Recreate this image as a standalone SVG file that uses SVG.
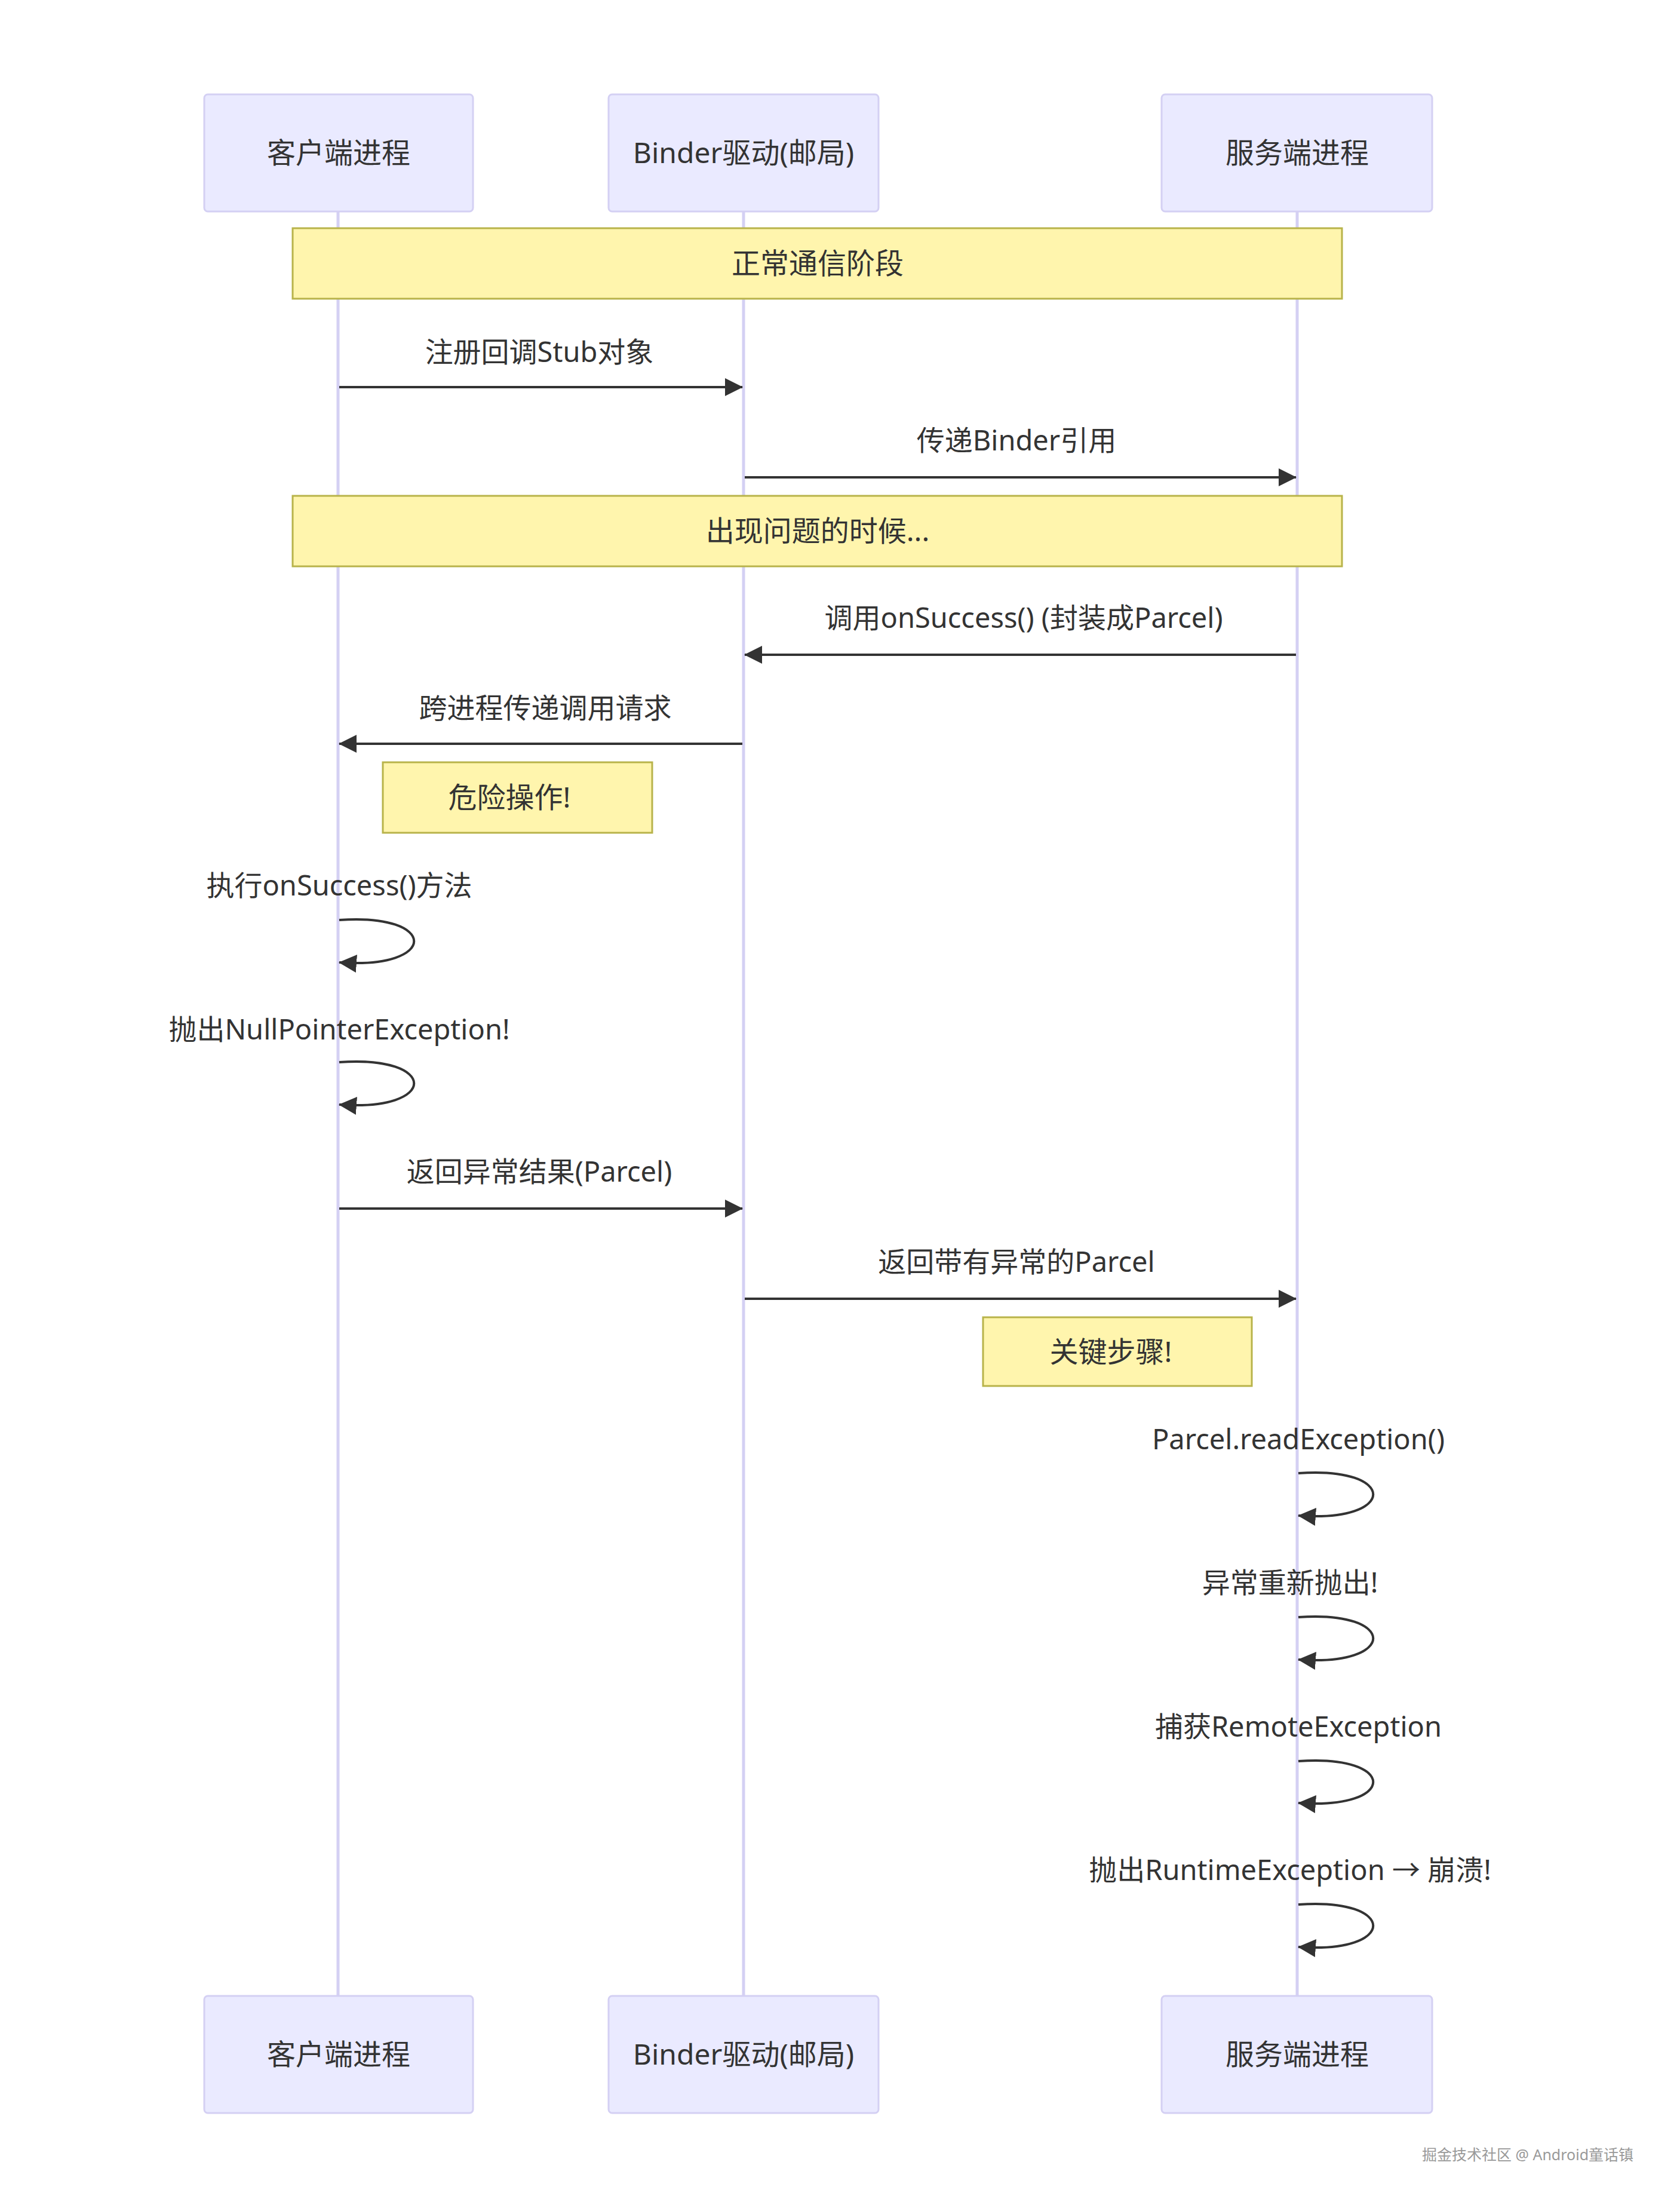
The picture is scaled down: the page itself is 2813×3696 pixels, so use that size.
<svg xmlns="http://www.w3.org/2000/svg" width="2813" height="3696" viewBox="0 0 2813 3696">
<style>
text{font-family:"Noto Sans","Noto Sans CJK SC",sans-serif;fill:#333;text-anchor:middle}
.actor{fill:#eaeaff;stroke:#d4d0f3;stroke-width:3}
.life{stroke:#d4d0f3;stroke-width:5}
.note{fill:#fff5ad;stroke:#b8b34a;stroke-width:3}
.msg{stroke:#333;stroke-width:4;fill:none;marker-end:url(#ah)}
.t{font-size:48px}
.m{font-size:47px}
</style>
<defs>
<marker id="ah" viewBox="0 0 30 30" refX="29" refY="15" markerWidth="30" markerHeight="30" markerUnits="userSpaceOnUse" orient="auto">
<path d="M0,0 L30,15 L0,30 z" fill="#333"/>
</marker>
</defs>
<rect width="2813" height="3696" fill="#fff"/>
<g id="lifelines">
<line class="life" x1="566" y1="354" x2="566" y2="3341"/>
<line class="life" x1="1245" y1="354" x2="1245" y2="3341"/>
<line class="life" x1="2172" y1="354" x2="2172" y2="3341"/>
</g>
<g id="client-top"><rect class="actor" x="342" y="158" width="450" height="196" rx="6"/><text class="t" x="567" y="273">客户端进程</text></g>
<g id="binder-top"><rect class="actor" x="1019" y="158" width="452" height="196" rx="6"/><text class="t" x="1245" y="273">Binder驱动(邮局)</text></g>
<g id="server-top"><rect class="actor" x="1945" y="158" width="453" height="196" rx="6"/><text class="t" x="2172" y="273">服务端进程</text></g>
<g id="client-bottom"><rect class="actor" x="342" y="3341" width="450" height="196" rx="6"/><text class="t" x="567" y="3456">客户端进程</text></g>
<g id="binder-bottom"><rect class="actor" x="1019" y="3341" width="452" height="196" rx="6"/><text class="t" x="1245" y="3456">Binder驱动(邮局)</text></g>
<g id="server-bottom"><rect class="actor" x="1945" y="3341" width="453" height="196" rx="6"/><text class="t" x="2172" y="3456">服务端进程</text></g>
<g id="note1"><rect class="note" x="490" y="382" width="1757" height="118"/><text class="t" x="1369" y="458">正常通信阶段</text></g>
<g id="note2"><rect class="note" x="490" y="830" width="1757" height="118"/><text class="t" x="1369" y="906">出现问题的时候...</text></g>
<g id="note3"><rect class="note" x="641" y="1276" width="451" height="118"/><text class="t" x="853" y="1352">危险操作!</text></g>
<g id="note4"><rect class="note" x="1646" y="2205" width="450" height="115"/><text class="t" x="1860" y="2280">关键步骤!</text></g>
<g id="connectors">
<line class="msg" x1="568" y1="648" x2="1243" y2="648"/>
<line class="msg" x1="1247" y1="799" x2="2170" y2="799"/>
<line class="msg" x1="2170" y1="1096" x2="1247" y2="1096"/>
<line class="msg" x1="1243" y1="1245" x2="568" y2="1245"/>
<path class="msg" d="M568,1540 C735,1528 735,1623 568,1611"/>
<path class="msg" d="M568,1778 C735,1766 735,1861 568,1849"/>
<line class="msg" x1="568" y1="2023" x2="1243" y2="2023"/>
<line class="msg" x1="1247" y1="2174" x2="2170" y2="2174"/>
<path class="msg" d="M2174,2466 C2341,2454 2341,2549 2174,2537"/>
<path class="msg" d="M2174,2707 C2341,2695 2341,2790 2174,2778"/>
<path class="msg" d="M2174,2948 C2341,2936 2341,3030 2174,3018"/>
<path class="msg" d="M2174,3188 C2341,3176 2341,3271 2174,3259"/>
</g>
<g id="labels">
<text class="m" x="903" y="606">注册回调Stub对象</text>
<text class="m" x="1702" y="754">传递Binder引用</text>
<text class="m" x="1714" y="1051">调用onSuccess() (封装成Parcel)</text>
<text class="m" x="913" y="1202">跨进程传递调用请求</text>
<text class="m" x="568" y="1499">执行onSuccess()方法</text>
<text class="m" x="568" y="1740">抛出NullPointerException!</text>
<text class="m" x="903" y="1978">返回异常结果(Parcel)</text>
<text class="m" x="1702" y="2129">返回带有异常的Parcel</text>
<text class="m" x="2174" y="2426">Parcel.readException()</text>
<text class="m" x="2160" y="2666">异常重新抛出!</text>
<text class="m" x="2174" y="2907">捕获RemoteException</text>
<text class="m" x="2160" y="3147">抛出RuntimeException → 崩溃!</text>
</g>
<text x="2558" y="3616" style="font-size:25px;fill:#999">掘金技术社区 @ Android童话镇</text>
</svg>
